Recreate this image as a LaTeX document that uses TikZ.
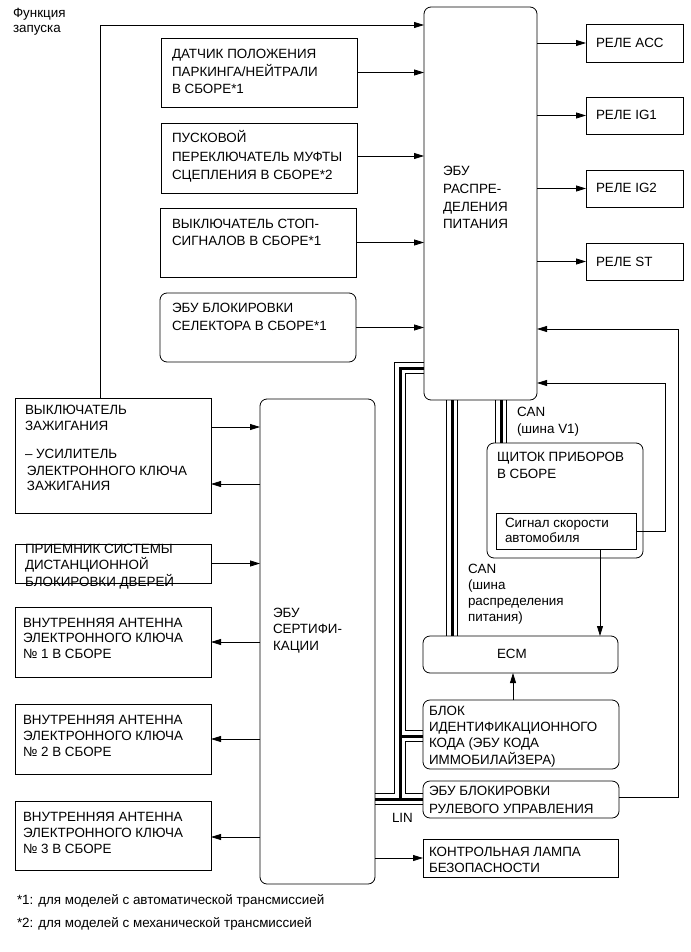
\documentclass[tikz,border=0pt]{standalone}
\usepackage{fontspec}
\setmainfont{Liberation Sans}
\usetikzlibrary{arrows.meta,backgrounds}
\newcommand\mt[2]{\fontsize{13.4}{#1}\selectfont\begin{tabular}[t]{@{}l@{}}#2\end{tabular}}
\newcommand\busdraw[1]{\draw[line width=12.5pt]#1; \draw[white,line width=10.5pt]#1; \draw[line width=3pt]#1;}
\begin{document}
\begin{tikzpicture}[x=1pt,y=-1pt,
  box/.style={draw, line width=0.8pt, inner sep=0pt, outer sep=0pt, anchor=north west},
  rbox/.style={box, rounded corners=7pt},
  lbl/.style={anchor=base west, inner sep=0pt, outer sep=0pt},
  arr/.style={line width=0.8pt, -{Triangle[length=10pt,width=6pt]}},
  wire/.style={line width=0.8pt}]
\useasboundingbox (0,0) rectangle (690,952);

% boxes
\node[rbox, minimum width=113pt, minimum height=393pt] (pd) at (424,7) {};
\node[box, minimum width=196pt, minimum height=69pt] (b1) at (161,38) {};
\node[box, minimum width=196pt, minimum height=70pt] (b2) at (161,123) {};
\node[box, minimum width=196pt, minimum height=69pt] (b3) at (160,208) {};
\node[rbox, minimum width=196pt, minimum height=69pt] (b4) at (160,293) {};
\node[box, minimum width=97pt, minimum height=38pt] (r1) at (586,24) {};
\node[box, minimum width=97pt, minimum height=37pt] (r2) at (586,97) {};
\node[box, minimum width=97pt, minimum height=37pt] (r3) at (586,170) {};
\node[box, minimum width=97pt, minimum height=37pt] (r4) at (586,243) {};
\node[box, minimum width=196pt, minimum height=115pt] (ign) at (15,398) {};
\node[box, minimum width=196pt, minimum height=39pt] (rem) at (15,544) {};
\node[box, minimum width=196pt, minimum height=70pt] (a1) at (15,607) {};
\node[box, minimum width=196pt, minimum height=70pt] (a2) at (15,704) {};
\node[box, minimum width=196pt, minimum height=69pt] (a3) at (15,801) {};
\node[rbox, minimum width=115pt, minimum height=485pt] (cert) at (260,399) {};
\node[rbox, minimum width=156pt, minimum height=115pt] (dash) at (487,443) {};
\node[box, minimum width=140pt, minimum height=36pt] (spd) at (496,513) {};
\node[rbox, minimum width=195pt, minimum height=37pt] (ecm) at (423,636) {};
\node[rbox, minimum width=196pt, minimum height=69pt] (immo) at (423,700) {};
\node[rbox, minimum width=196pt, minimum height=37pt] (steer) at (423,781) {};
\node[box, minimum width=195pt, minimum height=38pt] (lamp) at (423,839) {};

% texts
\node[lbl] (tfz) at (13,18) {\mt{15}{Функция\\запуска}};
\node[lbl] (tpd) at (443,175.5) {\mt{17.8}{ЭБУ\\РАСПРЕ-\\ДЕЛЕНИЯ\\ПИТАНИЯ}};
\node[lbl] (tb1) at (172,58.5) {\mt{17.6}{ДАТЧИК ПОЛОЖЕНИЯ\\ПАРКИНГА/НЕЙТРАЛИ\\В СБОРЕ*1}};
\node[lbl] (tb2) at (172,143) {\mt{18}{ПУСКОВОЙ\\ПЕРЕКЛЮЧАТЕЛЬ МУФТЫ\\СЦЕПЛЕНИЯ В СБОРЕ*2}};
\node[lbl] (tb3) at (172,228) {\mt{17.5}{ВЫКЛЮЧАТЕЛЬ СТОП-\\СИГНАЛОВ В СБОРЕ*1}};
\node[lbl] (tb4) at (172,312) {\mt{18}{ЭБУ БЛОКИРОВКИ\\СЕЛЕКТОРА В СБОРЕ*1}};
\node[lbl] (tr1) at (596,48) {\mt{15}{РЕЛЕ ACC}};
\node[lbl] (tr2) at (596,120) {\mt{15}{РЕЛЕ IG1}};
\node[lbl] (tr3) at (596,193) {\mt{15}{РЕЛЕ IG2}};
\node[lbl] (tr4) at (596,266) {\mt{15}{РЕЛЕ ST}};
\node[lbl] (tig1) at (25,414.5) {\mt{15.5}{ВЫКЛЮЧАТЕЛЬ\\ЗАЖИГАНИЯ}};
\node[lbl] (tig2) at (25,458) {\mt{16}{– УСИЛИТЕЛЬ}};
\node[lbl] (tig3) at (27,475) {\mt{15.5}{ЭЛЕКТРОННОГО КЛЮЧА\\ЗАЖИГАНИЯ}};
\node[lbl] (trem) at (25,553) {\mt{15}{ПРИЕМНИК СИСТЕМЫ\\ДИСТАНЦИОННОЙ\\БЛОКИРОВКИ ДВЕРЕЙ}};
\node[lbl] (ta1) at (23,627) {\mt{15.7}{ВНУТРЕННЯЯ АНТЕННА\\ЭЛЕКТРОННОГО КЛЮЧА\\№ 1 В СБОРЕ}};
\node[lbl] (ta2) at (23,724) {\mt{16}{ВНУТРЕННЯЯ АНТЕННА\\ЭЛЕКТРОННОГО КЛЮЧА\\№ 2 В СБОРЕ}};
\node[lbl] (ta3) at (23,821) {\mt{16}{ВНУТРЕННЯЯ АНТЕННА\\ЭЛЕКТРОННОГО КЛЮЧА\\№ 3 В СБОРЕ}};
\node[lbl] (tcert) at (273,617) {\mt{16.5}{ЭБУ\\СЕРТИФИ-\\КАЦИИ}};
\node[lbl] (tdash) at (497,461) {\mt{17}{ЩИТОК ПРИБОРОВ\\В СБОРЕ}};
\node[lbl] (tspd) at (505,527) {\mt{15.5}{Сигнал скорости\\автомобиля}};
\node[lbl] (tecm) at (497,658.5) {\mt{15}{ECM}};
\node[lbl] (timmo) at (429,715) {\mt{16.3}{БЛОК\\ИДЕНТИФИКАЦИОННОГО\\КОДА (ЭБУ КОДА\\ИММОБИЛАЙЗЕРА)}};
\node[lbl] (tsteer) at (429,795) {\mt{18}{ЭБУ БЛОКИРОВКИ\\РУЛЕВОГО УПРАВЛЕНИЯ}};
\node[lbl] (tlamp) at (429,856) {\mt{16}{КОНТРОЛЬНАЯ ЛАМПА\\БЕЗОПАСНОСТИ}};
\node[lbl] (tcan1) at (517,416) {\mt{17}{CAN\\(шина V1)}};
\node[lbl] (tcan2) at (468,573) {\mt{16}{CAN\\(шина\\распределения\\питания)}};
\node[lbl] (tlin) at (392,822) {\mt{15}{LIN}};
\node[lbl] (tfn1) at (17,904) {\mt{15}{*1: для моделей с автоматической трансмиссией}};
\node[lbl] (tfn2) at (17,927) {\mt{15}{*2: для моделей с механической трансмиссией}};

% buses
\begin{scope}[on background layer]
\busdraw{(pd.west |- 0,368) -- (400,368) -- (400,799) -- (cert.east |- 0,799) (400,799) -- (steer.west |- 0,799) (400,736) -- (immo.west |- 0,736)}
\busdraw{(pd.south -| 452,0) -- (ecm.north -| 452,0)}
\busdraw{(pd.south -| 501,0) -- (dash.north -| 501,0)}
\end{scope}

% connectors
\draw[arr] ([xshift=85pt]ign.north west) |- (pd.west |- 0,25);
\draw[arr] (b1.east) -- (b1.east -| pd.west);
\draw[arr] (b2.east |- 0,156) -- (pd.west |- 0,156);
\draw[arr] (b3.east) -- (b3.east -| pd.west);
\draw[arr] (b4.east) -- (b4.east -| pd.west);
\draw[arr] (pd.east |- r1.west) -- (r1.west);
\draw[arr] (pd.east |- r2.west) -- (r2.west);
\draw[arr] (pd.east |- r3.west) -- (r3.west);
\draw[arr] (pd.east |- r4.west) -- (r4.west);
\draw[arr] (ign.east |- 0,427) -- (cert.west |- 0,427);
\draw[arr] (cert.west |- 0,484) -- (ign.east |- 0,484);
\draw[arr] (rem.east) -- (rem.east -| cert.west);
\draw[arr] (cert.west |- a1.east) -- (a1.east);
\draw[arr] (cert.west |- a2.east) -- (a2.east);
\draw[arr] (cert.west |- 0,837) -- (a3.east |- 0,837);
\draw[arr] (cert.east |- lamp.west) -- (lamp.west);
\draw[arr] (spd.south -| 600,0) -- (ecm.north -| 600,0);
\draw[arr] (immo.north -| 513,0) -- (ecm.south -| 513,0);
\draw[arr] (steer.east |- 0,797) -- (678,797) |- (pd.east |- 0,329);
\draw[arr] (spd.east) -- (665,531) |- (pd.east |- 0,383);
\end{tikzpicture}
\end{document}
